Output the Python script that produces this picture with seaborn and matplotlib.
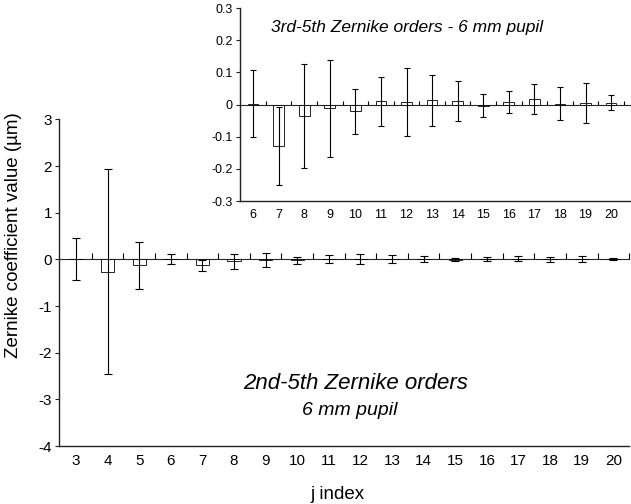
import matplotlib
matplotlib.use("Agg")
import matplotlib.pyplot as plt
import numpy as np
import seaborn as sns

# data (coefficient means and error bar half-lengths, µm)
j_main = [3, 4, 5, 6, 7, 8, 9, 10, 11, 12, 13, 14, 15, 16, 17, 18, 19, 20]
mean_main = [0.01, -0.265, -0.125, 0.003, -0.129, -0.036, -0.012, -0.021, 0.010,
             0.008, 0.013, 0.011, -0.004, 0.009, 0.018, 0.003, 0.005, 0.006]
err_main = [0.45, 2.195, 0.505, 0.103, 0.122, 0.161, 0.152, 0.070, 0.077,
            0.107, 0.080, 0.061, 0.036, 0.034, 0.047, 0.052, 0.063, 0.024]

j_inset = j_main[3:]
mean_inset = mean_main[3:]
err_inset = err_main[3:]

sns.set_style("ticks")
plt.rcParams['font.family'] = ['Liberation Sans', 'DejaVu Sans']
plt.rcParams.update({'text.color': 'black', 'axes.labelcolor': 'black',
                     'xtick.color': 'black', 'ytick.color': 'black'})

fig = plt.figure(figsize=(6.31, 5.04), dpi=100)
ax = fig.add_axes([0.0935, 0.115, 0.9035, 0.648])
axin = fig.add_axes([0.380, 0.601, 0.618, 0.383])


def draw(a, labels, means, errs, ylim, xlim, tick_fs, cap, tick_len):
    sns.barplot(x=[str(v) for v in labels], y=means, ax=a, color='white',
                edgecolor='black', linewidth=0.6, width=0.42, saturation=1,
                errorbar=None)
    a.errorbar(np.arange(len(labels)), means, yerr=errs, fmt='none',
               ecolor='black', elinewidth=0.8, capsize=cap, capthick=0.8,
               zorder=5)
    a.set_ylim(*ylim)
    a.set_xlim(*xlim)
    sns.despine(ax=a)
    for s in ['left', 'bottom']:
        a.spines[s].set_color('#222222')
        a.spines[s].set_linewidth(1.0)
    a.tick_params(axis='x', length=0, labelsize=tick_fs, pad=6)
    a.tick_params(axis='y', length=3, width=0.8, labelsize=tick_fs, pad=2,
                  color='#222222')
    a.set_xlabel('')
    a.set_ylabel('')
    # zero line with category separator ticks
    zero = (0 - ylim[0]) / (ylim[1] - ylim[0])
    sec = a.secondary_xaxis(zero)
    sec.spines['bottom'].set_color('black')
    sec.spines['bottom'].set_linewidth(1.0)
    sec.set_xticks(np.arange(len(labels)) + 0.5)
    sec.set_xticklabels([])
    sec.tick_params(axis='x', direction='out', length=tick_len, width=0.8,
                    color='black')


draw(ax, j_main, mean_main, err_main, (-4, 3), (-0.54, 17.5), 11, 3, 4)
ax.set_yticks(range(-4, 4))
ax.set_yticklabels([str(v) for v in range(-4, 4)])
ax.set_ylabel('Zernike coefficient value (µm)', fontsize=13.5, va='center')
ax.yaxis.set_label_coords(-0.080, 0.645)
ax.set_xlabel('j index', fontsize=13.5, va='center')
ax.xaxis.set_label_coords(0.488, -0.147)
ax.text(0.52, 0.19, '2nd-5th Zernike orders', transform=ax.transAxes,
        ha='center', va='center', fontsize=16, style='italic')
ax.text(0.51, 0.11, '6 mm pupil', transform=ax.transAxes,
        ha='center', va='center', fontsize=14, style='italic')

draw(axin, j_inset, mean_inset, err_inset, (-0.3, 0.3), (-0.52, 14.73), 9, 2.5, 3)
yt = [-0.3, -0.2, -0.1, 0, 0.1, 0.2, 0.3]
axin.set_yticks(yt)
axin.set_yticklabels(['-0.3', '-0.2', '-0.1', '0', '0.1', '0.2', '0.3'])
axin.text(0.43, 0.90, '3rd-5th Zernike orders - 6 mm pupil',
          transform=axin.transAxes, ha='center', va='center', fontsize=12.5,
          style='italic')

fig.savefig('out.png', dpi=100)
plt.close(fig)
